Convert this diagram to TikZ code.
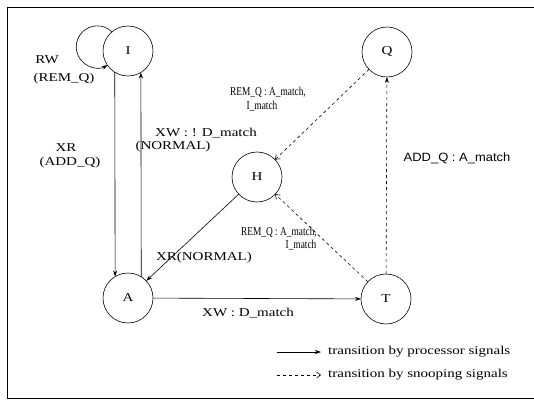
\documentclass[tikz,border=0pt]{standalone}
\usepackage{fontspec}
\setmainfont{Liberation Serif}
\newfontfamily\widefont[FakeStretch=1.25]{Liberation Serif}
\newfontfamily\narrowfont[FakeStretch=0.78]{Liberation Serif}
\newfontfamily\addfont[FakeStretch=1.08]{Liberation Sans}
\usetikzlibrary{arrows.meta,calc}
\begin{document}
\begin{tikzpicture}[x=1pt,y=1pt,
  state/.style={circle,draw,line width=0.6pt,minimum size=50pt,inner sep=0pt,outer sep=0pt,font=\widefont\fontsize{12}{14}\selectfont},
  wlab/.style={inner sep=0pt,font=\widefont\fontsize{12}{14}\selectfont},
  nlab/.style={inner sep=0pt,font=\narrowfont\fontsize{12}{14}\selectfont},
  alab/.style={inner sep=0pt,font=\addfont\fontsize{12}{14}\selectfont},
  proc/.style={line width=0.6pt,-{Stealth[length=6pt,width=4pt]}},
  snoop/.style={line width=0.6pt,dash pattern=on 3pt off 3pt,-{Straight Barb[length=4pt,width=6pt]}},
  snoopfill/.style={line width=0.6pt,dash pattern=on 3pt off 3pt,-{Stealth[length=6pt,width=4pt]}}]
\useasboundingbox (0,0) rectangle (534,399);
% frame (open on the right)
\draw[line width=0.8pt] (534,392) -- (7,392) -- (7,1) -- (534,1);
% states
\node[state] (I) at (128,348) {I};
\node[state] (Q) at (387,347) {Q};
\node[state] (H) at (257,222) {H};
\node[state] (A) at (128,101) {A};
\node[state] (T) at (386,100) {T};
% self loop on I
\draw[proc] (I.130.6) arc[start angle=45.6, end angle=299.7, radius=21pt];
\node[wlab] (rw) at (47,339) {RW};
\node[wlab] (remq1) at (64,320) {(REM\_Q)};
% I <-> A
\draw[proc] (I.238.7) -- (A.121.3);
\draw[proc] (A.58.7) -- (I.301.3);
\node[wlab] (xr) at (66,251) {XR};
\node[wlab] (addq) at (70,236) {(ADD\_Q)};
\node[wlab] (xwnd) at (206,266) {XW : ! D\_match};
\node[wlab] (norm1) at (173,252) {(NORMAL)};
% H -> A
\draw[proc] (H) -- (A);
\node[wlab] (xrn) at (204,141) {XR(NORMAL)};
% A -> T
\draw[proc] (A) -- (T);
\node[wlab] (xwd) at (248,86) {XW : D\_match};
% Q -> H
\draw[snoop] (Q) -- (H);
\node[nlab] (rq1) at (268,307) {REM\_Q : A\_match,};
\node[nlab] (im1) at (262,293) {I\_match};
% T -> H
\draw[snoop] (T) -- (H);
\node[nlab] (rq2) at (279,167) {REM\_Q : A\_match,};
\node[nlab] (im2) at (301,154) {I\_match};
% T -> Q
\draw[snoopfill] (T) -- (Q);
\node[alab] (aq) at (457,241) {ADD\_Q : A\_match};
% legend
\coordinate (l1a) at (277,47);
\coordinate (l1b) at (321,47);
\coordinate (l2a) at (277,24);
\coordinate (l2b) at (321,24);
\draw[proc] (l1a) -- (l1b);
\draw[snoop] (l2a) -- (l2b);
\node[wlab,anchor=west] (lt1) at (328,47) {transition by processor signals};
\node[wlab,anchor=west] (lt2) at (328,24) {transition by snooping signals};
\end{tikzpicture}
\end{document}
